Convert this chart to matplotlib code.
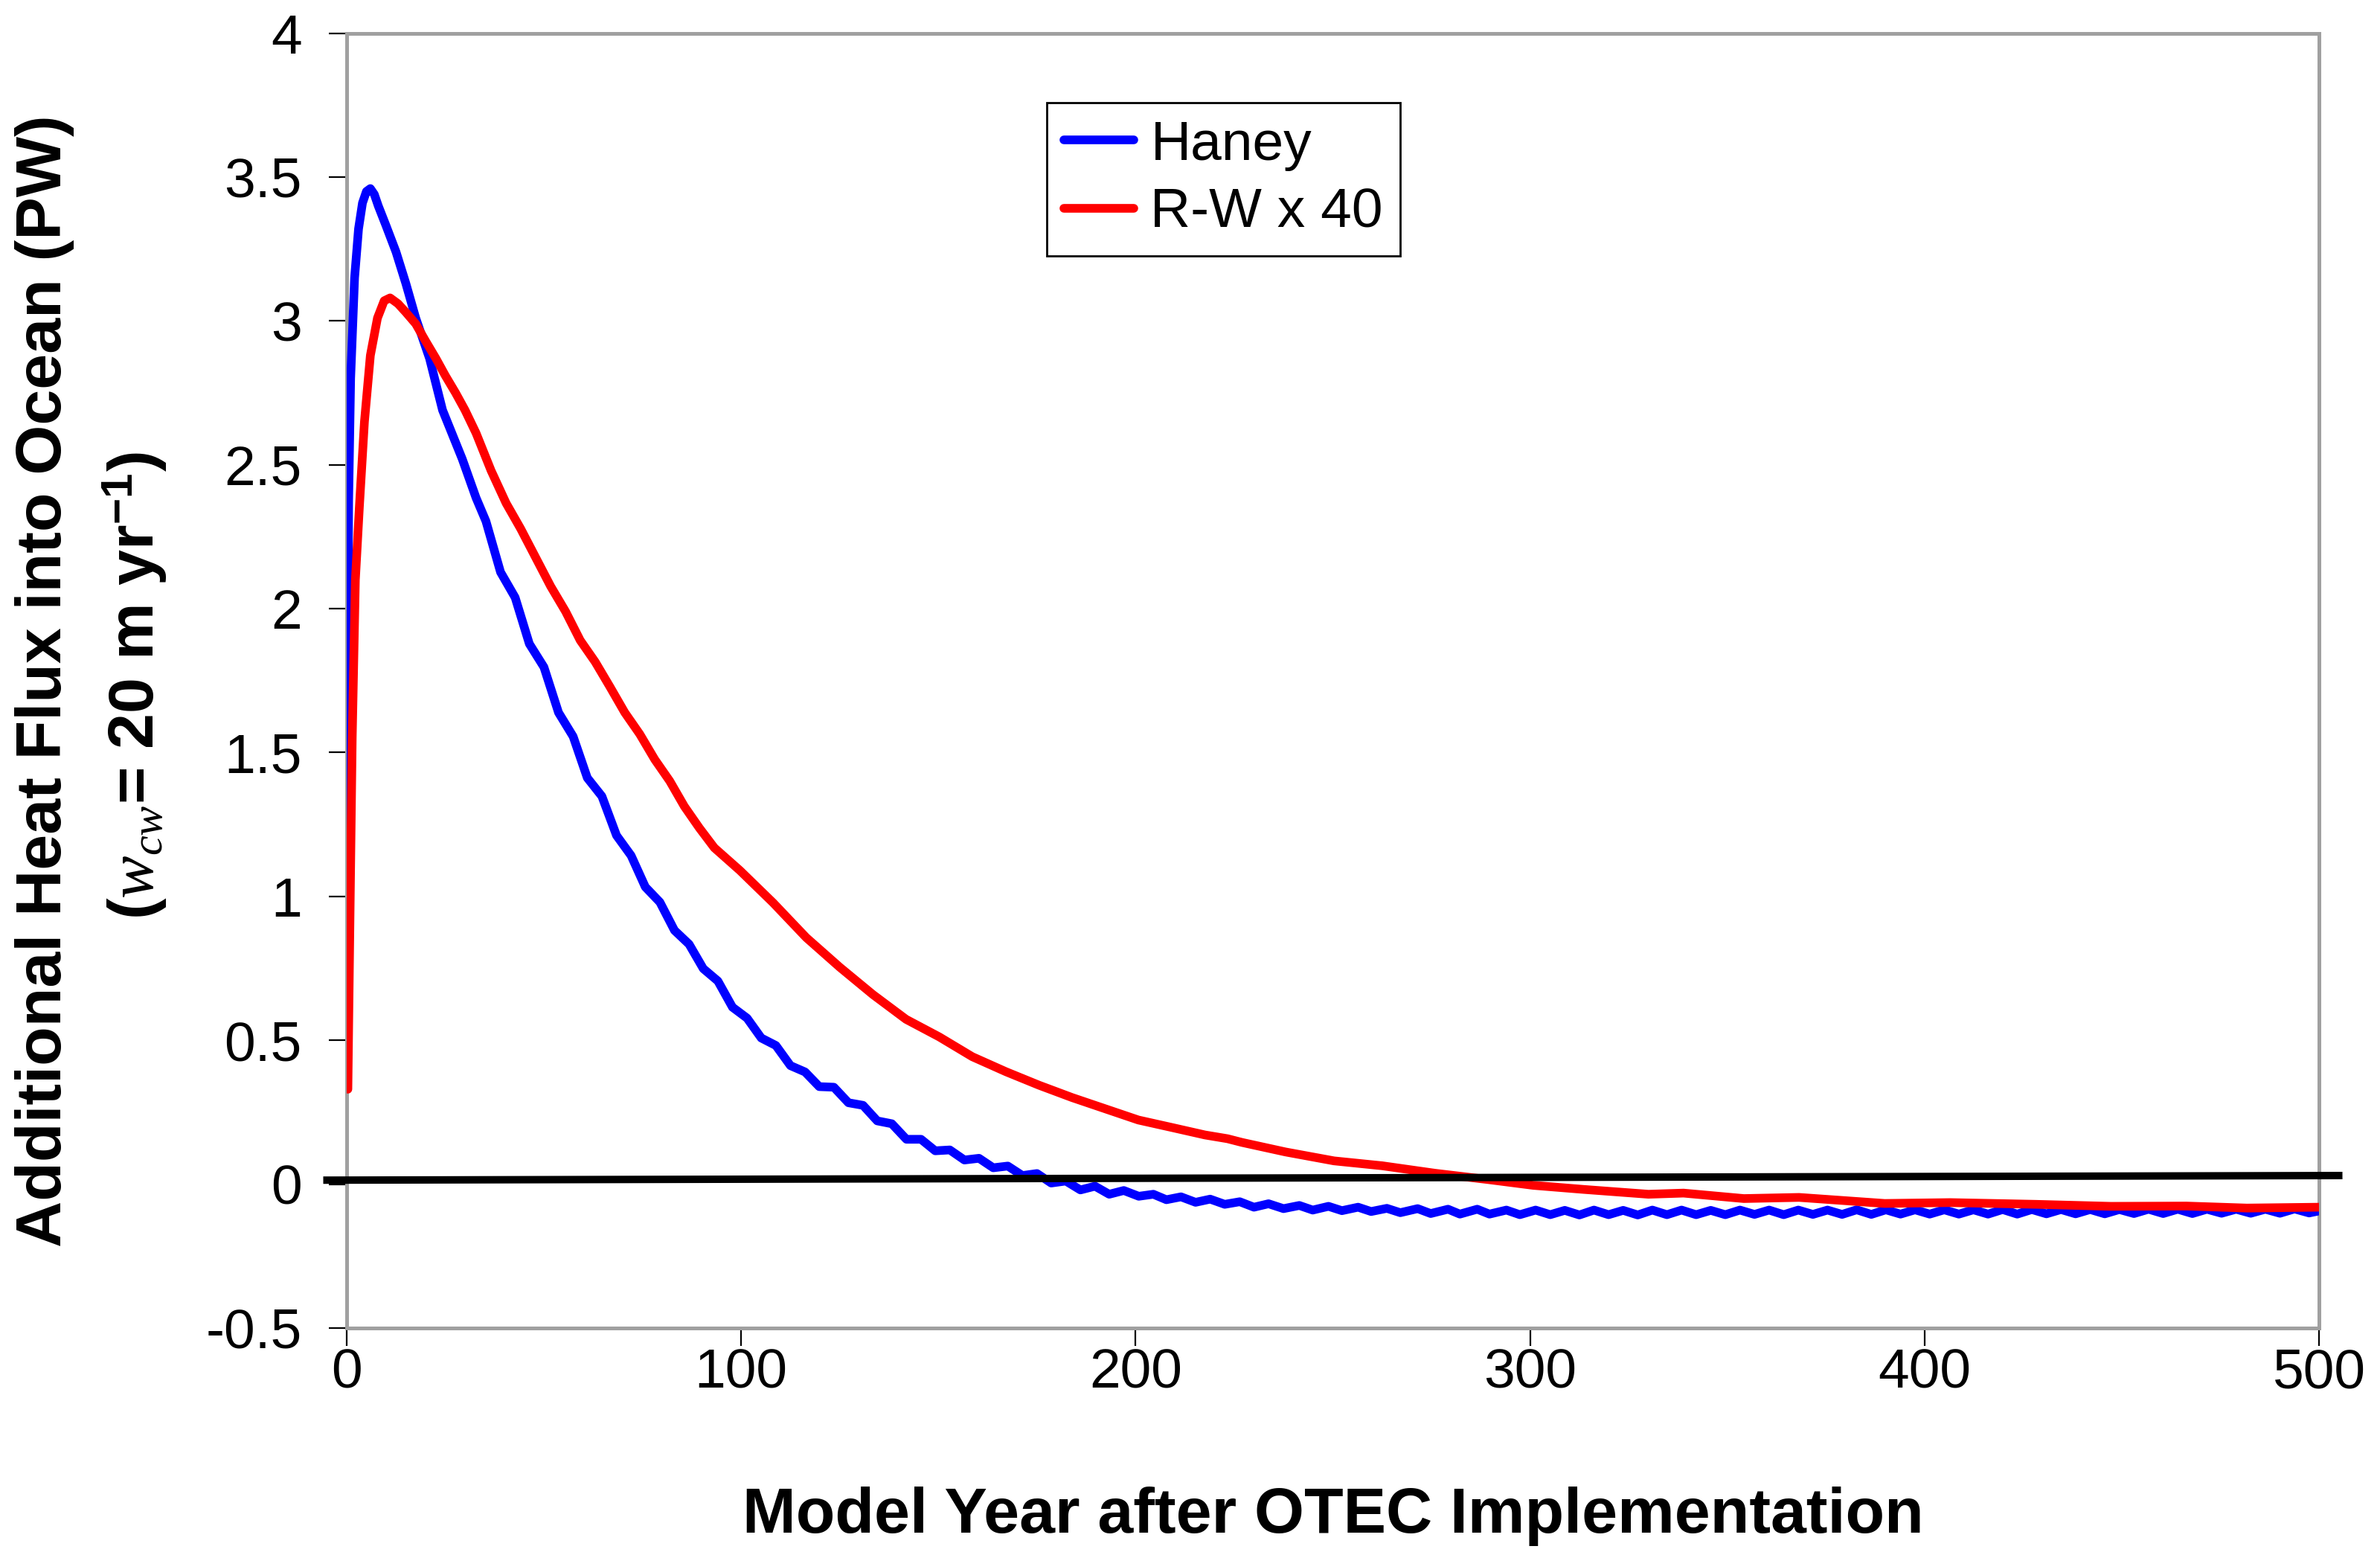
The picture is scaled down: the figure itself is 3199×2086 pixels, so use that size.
import matplotlib
matplotlib.use('Agg')
import matplotlib.pyplot as plt

# model years and fluxes (PW)
haney_years = [0, 0.5, 1, 2, 3, 4, 5, 6, 7, 8, 10, 12.5, 15, 17.5, 21, 24.3, 29.3, 32.8,
               35.3, 39.0, 42.7, 46.3, 50.0, 53.7, 57.4, 61.0, 64.7, 68.4, 72.1, 75.7,
               79.4, 83.1, 86.8, 90.4, 94.1, 97.8, 101.5, 105.1, 108.8, 112.5, 116.2, 119.8,
               123.5, 127.2, 130.9, 134.5, 138.2, 141.9, 145.6, 149.2, 152.9, 156.6, 160.3, 163.9,
               167.6, 171.3, 175.0, 178.6, 182.3, 186.0, 189.7, 193.3,
               197.0, 200.8, 204.5, 207.8, 211.5, 215.2, 218.9, 222.6, 226.4, 230.0,
               233.7, 237.5, 241.5, 244.9, 248.9, 252.3, 256.4, 259.7, 263.7, 267.1,
               271.5, 274.8, 279.2, 282.2, 286.6, 289.7, 294.0, 297.4,
               301.4, 305.1, 308.8, 312.5, 316.2, 319.9, 323.6, 327.3, 331.0, 334.7,
               338.4, 342.1, 345.8, 349.5, 353.2, 356.9, 360.6, 364.3, 368.0, 371.7,
               375.4, 379.1, 382.8, 386.5, 390.2, 393.9, 397.6, 401.3, 405.0, 408.7,
               412.4, 416.1, 419.8, 423.5, 427.2, 430.9, 434.6, 438.3, 442.0, 445.7,
               449.4, 453.1, 456.8, 460.5, 464.2, 467.9, 471.6, 475.3, 479.0, 482.7,
               486.4, 490.1, 493.8, 497.5, 500]
haney_flux = [1.23, 2.38, 2.80, 3.15, 3.32, 3.41, 3.45, 3.46, 3.44, 3.40, 3.33, 3.24, 3.13, 3.01, 2.87, 2.69, 2.52, 2.385,
              2.304, 2.127, 2.039, 1.878, 1.797, 1.639, 1.556, 1.412, 1.348, 1.212, 1.142, 1.033,
              0.980, 0.882, 0.834, 0.749, 0.706, 0.615, 0.577, 0.508, 0.482, 0.412, 0.390, 0.339,
              0.337, 0.283, 0.274, 0.220, 0.210, 0.156, 0.156, 0.116, 0.119, 0.084, 0.090, 0.057,
              0.063, 0.030, 0.037, 0.004, 0.011, -0.020, -0.007, -0.035,
              -0.022, -0.042, -0.035, -0.054, -0.044, -0.063, -0.052, -0.070, -0.061, -0.080,
              -0.068, -0.085, -0.074, -0.090, -0.077, -0.092, -0.080, -0.095, -0.084, -0.099,
              -0.085, -0.102, -0.087, -0.104, -0.087, -0.104, -0.090, -0.106,
              -0.090, -0.106, -0.091, -0.107, -0.090, -0.106, -0.091, -0.107, -0.090, -0.106,
              -0.090, -0.106, -0.091, -0.106, -0.090, -0.105, -0.090, -0.106, -0.090, -0.105,
              -0.090, -0.105, -0.089, -0.105, -0.089, -0.104, -0.089, -0.104, -0.089, -0.104,
              -0.089, -0.104, -0.088, -0.104, -0.088, -0.103, -0.088, -0.103, -0.088, -0.103,
              -0.088, -0.102, -0.087, -0.102, -0.087, -0.102, -0.087, -0.101, -0.087, -0.101,
              -0.087, -0.101, -0.086, -0.100, -0.093]

rw_years = [0.3, 0.9, 1.4, 2.2, 3.2, 4.5, 6.0, 7.8, 9.5, 11.0, 13, 15, 17.5, 20, 22.6, 25, 27.6, 30,
            32.8, 36.6, 40.4, 44.1, 47.9, 51.7, 55.5, 59.2, 63, 66.8, 70.5, 74.3, 78.1, 81.9,
            85.6, 89.4, 93.2, 99.7, 108.1, 116.5, 125, 133.4, 141.8, 150.2, 158.6, 167.1,
            175.5, 183.9, 192.3, 200.7, 209.2, 217.6, 223.3, 227, 238, 250.3, 262.5, 275.9,
            289.4, 300.8, 313.4, 330, 338.9, 354.2, 368.2, 389.9, 406.5, 428.2, 447.3, 466.4,
            481.7, 500]
rw_flux = [0.33, 1.0, 1.55, 2.1, 2.35, 2.65, 2.88, 3.01, 3.07, 3.08, 3.06, 3.03, 2.99, 2.93, 2.87, 2.81, 2.75, 2.69,
           2.61, 2.48, 2.367, 2.278, 2.178, 2.078, 1.99, 1.89, 1.815, 1.727, 1.639, 1.564, 1.476, 1.401,
           1.313, 1.238, 1.169, 1.09, 0.978, 0.857, 0.754, 0.659, 0.573, 0.512, 0.443, 0.391,
           0.344, 0.301, 0.262, 0.223, 0.197, 0.171, 0.158, 0.145, 0.112, 0.081, 0.064, 0.038,
           0.016, -0.004, -0.018, -0.035, -0.031, -0.050, -0.046, -0.067, -0.064, -0.070, -0.077, -0.076,
           -0.083, -0.080]

# the hand-drawn zero line, slightly tilted
zero_x = [-5, 505]
zero_y = [0.014, 0.030]

x_ticks = [0, 100, 200, 300, 400, 500]
y_ticks = [-0.5, 0, 0.5, 1, 1.5, 2, 2.5, 3, 3.5, 4]
y_tick_labels = ['-0.5', '0', '0.5', '1', '1.5', '2', '2.5', '3', '3.5', '4']

plt.rcParams['font.family'] = ['Liberation Sans', 'DejaVu Sans']
plt.rcParams['axes.unicode_minus'] = False
plt.rcParams['mathtext.fontset'] = 'custom'
plt.rcParams['mathtext.rm'] = 'Liberation Sans:bold'
plt.rcParams['mathtext.bf'] = 'Liberation Sans:bold'
plt.rcParams['mathtext.it'] = 'Liberation Serif:italic'

W, H = 3199, 2086
fig = plt.figure(figsize=(W / 200, H / 200), dpi=200)
ax = fig.add_axes([466 / W, 1 - 1785 / H, (3117 - 466) / W, (1785 - 44.6) / H])

ax.plot(haney_years, haney_flux, color='#0000FF', lw=4.2, solid_capstyle='round', label='Haney', zorder=3)
ax.plot(rw_years, rw_flux, color='#FF0000', lw=4.2, solid_capstyle='round', label='R-W x 40', zorder=4)
ax.plot(zero_x, zero_y, color='black', lw=3.6, clip_on=False, zorder=5)

ax.set_xlim(0, 500)
ax.set_ylim(-0.5, 4)
ax.set_xticks(x_ticks)
ax.set_yticks(y_ticks)
ax.set_yticklabels(y_tick_labels)
ax.tick_params(axis='both', direction='out', length=8.7, width=0.8, colors='black', labelsize=27)
ax.tick_params(axis='y', pad=13)
ax.tick_params(axis='x', pad=1)

# excel style frame: grey plot-area border, thin black axis lines
for s in ax.spines.values():
    s.set_color('#A0A0A0')
    s.set_linewidth(1.8)
ax.axvline(0, color='black', lw=0.6, zorder=2)
ax.axhline(-0.5, color='black', lw=0.8, zorder=2, clip_on=False)

ax.set_xlabel('Model Year after OTEC Implementation', fontsize=31, fontweight='bold', labelpad=42)

fig.text(82 / W, 1 - 915 / H, 'Additional Heat Flux into Ocean (PW)', rotation=90,
         rotation_mode='anchor', ha='center', va='baseline', fontsize=31, fontweight='bold')
fig.text(207 / W, 1 - 922 / H, r'($\mathit{w}_{\mathit{cw}}$= 20 m yr$^{\mathbf{-1}}$)', rotation=90,
         rotation_mode='anchor', ha='center', va='baseline', fontsize=31, fontweight='bold')

leg = ax.legend(loc='upper left', bbox_to_anchor=(1407 / W, 1 - 138 / H), bbox_transform=fig.transFigure,
                borderaxespad=0, fontsize=27, fancybox=False, framealpha=1, edgecolor='black',
                handlelength=1.26, handletextpad=0.3, labelspacing=0.3, borderpad=0.3)
leg.get_frame().set_linewidth(1.0)

fig.savefig('out.png', dpi=200)
